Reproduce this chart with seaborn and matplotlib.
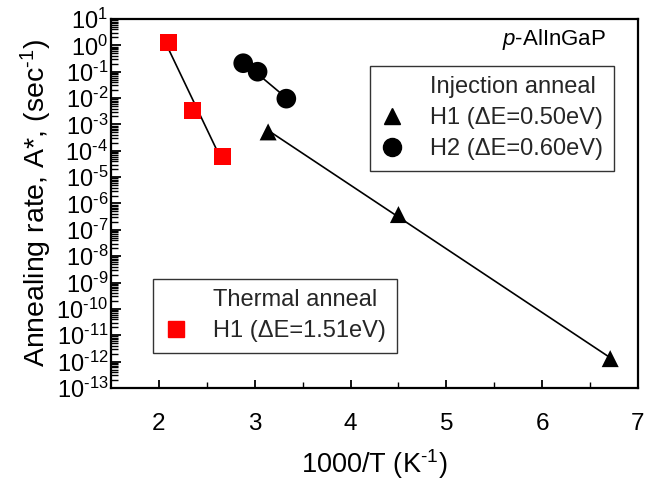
import numpy as np
import pandas as pd
import matplotlib
matplotlib.use("Agg")
import matplotlib.pyplot as plt
from matplotlib.lines import Line2D
from matplotlib.ticker import LogLocator, FixedLocator, NullFormatter, FuncFormatter
import seaborn as sns

# Annealing rate data (x = 1000/T in K^-1, y = rate in s^-1)
thermal_h1_x = [2.10, 2.35, 2.66]
thermal_h1_y = [1.25, 3.5e-3, 6.2e-5]

inject_h2_x = [2.88, 3.03, 3.33]
inject_h2_y = [0.21, 0.10, 0.0095]

inject_h1_x = [3.14, 4.50, 6.71]
inject_h1_y = [5.2e-4, 3.8e-7, 1.3e-12]

labels_thermal = ["Thermal anneal", "H1 (\u0394E=1.51eV)"]
labels_inject = ["Injection anneal", "H1 (\u0394E=0.50eV)", "H2 (\u0394E=0.60eV)"]

sns.set_theme(style="white")
plt.rcParams["font.family"] = ["Liberation Sans", "DejaVu Sans"]
plt.rcParams["mathtext.fontset"] = "custom"
plt.rcParams["mathtext.rm"] = "Liberation Sans"
plt.rcParams["mathtext.it"] = "Liberation Sans:italic"
plt.rcParams["mathtext.default"] = "regular"

df = pd.concat([
    pd.DataFrame({"x": thermal_h1_x, "y": thermal_h1_y, "set": "thermal"}),
    pd.DataFrame({"x": inject_h2_x, "y": inject_h2_y, "set": "h2"}),
    pd.DataFrame({"x": inject_h1_x, "y": inject_h1_y, "set": "h1"}),
], ignore_index=True)


def arrhenius_fit(xs, ys):
    """Straight-line fit of log10(rate) against 1000/T, over the data range."""
    slope, icpt = np.polyfit(xs, np.log10(ys), 1)
    xf = np.array([min(xs), max(xs)])
    return pd.DataFrame({"x": xf, "y": 10 ** (slope * xf + icpt)})


def decade_label(v, pos):
    e = int(round(np.log10(v)))
    if e < 0:
        return r"$10^{\text{-}%d}$" % (-e)
    return r"$10^{%d}$" % e


fig = plt.figure(figsize=(6.46, 4.87), dpi=100)
ax = fig.add_axes([0.1718, 0.2033, 0.8158, 0.7577])

for xs, ys in [(thermal_h1_x, thermal_h1_y), (inject_h2_x, inject_h2_y), (inject_h1_x, inject_h1_y)]:
    fit = arrhenius_fit(xs, ys)
    sns.lineplot(data=fit, x="x", y="y", ax=ax, color="black", lw=1.2, zorder=2)

styles = {
    "thermal": dict(marker="s", color="#ff0000", s=150),
    "h2": dict(marker="o", color="black", s=200),
    "h1": dict(marker="^", color="black", s=150),
}
for key, st in styles.items():
    sns.scatterplot(data=df[df["set"] == key], x="x", y="y", ax=ax,
                    marker=st["marker"], color=st["color"], s=st["s"],
                    edgecolor="none", linewidth=0, zorder=3)

ax.set_yscale("log")
ax.set_xlim(1.5, 7)
ax.set_ylim(1e-13, 1e1)

ax.yaxis.set_major_locator(FixedLocator([10.0 ** e for e in range(-13, 2)]))
ax.yaxis.set_minor_locator(LogLocator(base=10, subs=np.arange(2, 10), numticks=40))
ax.yaxis.set_minor_formatter(NullFormatter())
ax.yaxis.set_major_formatter(FuncFormatter(decade_label))
ax.xaxis.set_major_locator(FixedLocator([2, 3, 4, 5, 6, 7]))
ax.xaxis.set_minor_locator(FixedLocator([2.5, 3.5, 4.5, 5.5, 6.5]))

ax.tick_params(axis="both", which="both", direction="in", color="black", labelcolor="black")
ax.tick_params(axis="y", which="major", length=7, width=1.3, labelsize=17, pad=2)
ax.tick_params(axis="y", which="minor", length=5, width=1.0)
ax.tick_params(axis="x", which="major", length=6, width=1.3, labelsize=17.5, pad=18)
ax.tick_params(axis="x", which="minor", length=4.3, width=1.0)
ax.tick_params(axis="y", which="both", left=True, right=False)
ax.tick_params(axis="x", which="both", bottom=True, top=False)

for sp in ax.spines.values():
    sp.set_color("black")
    sp.set_linewidth(1.6)

ax.set_xlabel(r"1000/T (K$^{\text{-}1}$)", fontsize=19.5, color="black", labelpad=9)
ax.set_ylabel(r"Annealing rate, A*, (sec$^{\text{-}1}$)", fontsize=20.5, color="black", labelpad=2)

ax.text(0.94, 0.945, r"$\mathit{p}$-AlInGaP", transform=ax.transAxes, ha="right", va="center",
        fontsize=16, color="black")

blank = Line2D([], [], linestyle="none", marker=None)
tri = Line2D([], [], linestyle="none", marker="^", color="black", markersize=12)
circ = Line2D([], [], linestyle="none", marker="o", color="black", markersize=13)
sq = Line2D([], [], linestyle="none", marker="s", color="#ff0000", markersize=11)

legend_kw = dict(fontsize=17, frameon=True, fancybox=False, edgecolor="black",
                 handlelength=1.0, handletextpad=1.1, borderpad=0.45,
                 labelspacing=0.38, borderaxespad=0)

leg1 = ax.legend([blank, tri, circ], labels_inject, loc="upper right",
                 bbox_to_anchor=(0.954, 0.873), **legend_kw)
leg1.get_frame().set_linewidth(1.0)
ax.add_artist(leg1)

leg2 = ax.legend([blank, sq], labels_thermal, loc="lower left",
                 bbox_to_anchor=(0.080, 0.095), **legend_kw)
leg2.get_frame().set_linewidth(1.0)

fig.savefig("out.png", dpi=100)
